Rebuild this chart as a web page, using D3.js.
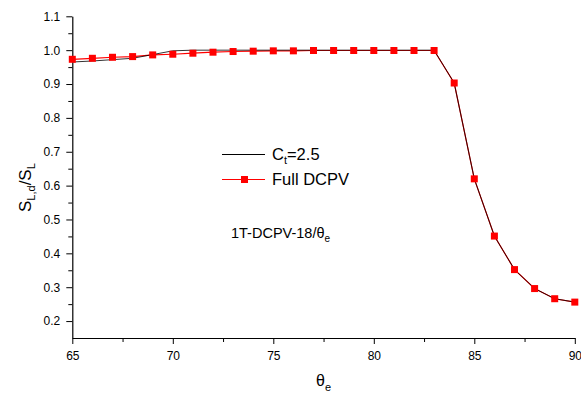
<!DOCTYPE html>
<html>
<head>
<meta charset="utf-8">
<script src="https://cdn.jsdelivr.net/npm/d3@7"></script>
<style>
  body { margin: 0; background: #fff; }
  text { font-family: "Liberation Sans", Arial, sans-serif; }
</style>
</head>
<body>
<script>
/* chart data */
var theta = [65,66,67,68,69,70,71,72,73,74,75,76,77,78,79,80,81,82,83,84,85,86,87,88,89,90];
var fullDCPV = [0.973,0.976,0.979,0.981,0.986,0.988,0.991,0.994,0.996,0.997,0.998,0.998,0.999,0.999,0.999,0.999,0.999,0.999,0.999,0.903,0.620,0.451,0.352,0.296,0.266,0.256];
var ct25 = [0.965,0.968,0.972,0.976,0.987,0.998,1.0,1.0,1.0,1.0,1.0,1.0,1.0,1.0,1.0,1.0,1.0,1.0,1.0,0.903,0.620,0.451,0.352,0.296,0.266,0.256];
var xTicks = [65,70,75,80,85,90];
var yTicks = [0.2,0.3,0.4,0.5,0.6,0.7,0.8,0.9,1.0,1.1];

var svg = d3.select("body").append("svg")
            .attr("width", 581)
            .attr("height", 396);

var x = d3.scaleLinear().domain([65, 90]).range([72.3, 574.8]);
var y = d3.scaleLinear().domain([0.15, 1.1]).range([338, 16.3]);

/* minor ticks */
var xMinor = d3.range(67.5, 90, 5);
var yMinor = d3.range(0.25, 1.1, 0.1);

svg.append("g")
   .attr("transform", "translate(0,338)")
   .call(d3.axisBottom(x).tickValues(xMinor).tickSize(4).tickFormat(""))
   .call(function(g) { g.select(".domain").remove(); });
svg.append("g")
   .attr("transform", "translate(72.3,0)")
   .call(d3.axisLeft(y).tickValues(yMinor).tickSize(4).tickFormat(""))
   .call(function(g) { g.select(".domain").remove(); });

var xAxis = svg.append("g")
   .attr("transform", "translate(0,338)")
   .call(d3.axisBottom(x).tickValues(xTicks).tickSize(6).tickSizeOuter(0).tickFormat(d3.format("d")));
xAxis.selectAll("text").attr("font-size", 12).attr("fill", "#000").attr("dy", "1.05em")
     .style("font-family", "'Liberation Sans', Arial, sans-serif");

var yAxis = svg.append("g")
   .attr("transform", "translate(72.3,0)")
   .call(d3.axisLeft(y).tickValues(yTicks).tickSize(6).tickSizeOuter(0).tickFormat(d3.format(".1f")));
yAxis.selectAll("text").attr("font-size", 12).attr("fill", "#000").attr("x", -12)
     .style("font-family", "'Liberation Sans', Arial, sans-serif");

svg.selectAll(".domain").attr("stroke", "#000").attr("stroke-width", 1.2);

/* lines */
var line = d3.line()
             .x(function(d) { return x(d[0]); })
             .y(function(d) { return y(d[1]); });

svg.append("path")
   .datum(d3.zip(theta, fullDCPV))
   .attr("d", line)
   .attr("fill", "none")
   .attr("stroke", "#ff0000")
   .attr("stroke-width", 1.2);

svg.append("path")
   .datum(d3.zip(theta, ct25))
   .attr("d", line)
   .attr("fill", "none")
   .attr("stroke", "#000")
   .attr("stroke-opacity", 0.8)
   .attr("stroke-width", 1);

svg.selectAll("rect.pt")
   .data(d3.zip(theta, fullDCPV))
   .enter()
   .append("rect")
   .attr("class", "pt")
   .attr("x", function(d) { return x(d[0]) - 3.5; })
   .attr("y", function(d) { return y(d[1]) - 3.5; })
   .attr("width", 7)
   .attr("height", 7)
   .attr("fill", "#ff0000");

/* legend */
svg.append("line").attr("x1", 222).attr("x2", 265).attr("y1", 154.5).attr("y2", 154.5)
   .attr("stroke", "#000").attr("stroke-width", 1);
var t1 = svg.append("text").attr("x", 272).attr("y", 159.5).attr("font-size", 16.5);
t1.append("tspan").text("C");
t1.append("tspan").attr("font-size", 11).attr("dy", 4).text("t");
t1.append("tspan").attr("dy", -4).text("=2.5");

svg.append("line").attr("x1", 222).attr("x2", 265).attr("y1", 179.5).attr("y2", 179.5)
   .attr("stroke", "#ff0000").attr("stroke-width", 1);
svg.append("rect").attr("x", 241).attr("y", 176).attr("width", 7).attr("height", 7).attr("fill", "#ff0000");
svg.append("text").attr("x", 272).attr("y", 184.5).attr("font-size", 16.5).text("Full DCPV");

/* annotation */
var ann = svg.append("text").attr("x", 231).attr("y", 237.5).attr("font-size", 14.5);
ann.append("tspan").text("1T-DCPV-18/\u03b8");
ann.append("tspan").attr("font-size", 10).attr("dy", 4).text("e");

/* axis titles */
var xt = svg.append("text").attr("x", 316).attr("y", 386).attr("font-size", 16);
xt.append("tspan").text("\u03b8");
xt.append("tspan").attr("font-size", 11).attr("dy", 5).text("e");

var yt = svg.append("text")
            .attr("transform", "translate(31,212) rotate(-90)")
            .attr("font-size", 17);
yt.append("tspan").text("S");
yt.append("tspan").attr("font-size", 11).attr("dy", 4).text("L,d");
yt.append("tspan").attr("dy", -4).text("/S");
yt.append("tspan").attr("font-size", 11).attr("dy", 4).text("L");
</script>
</body>
</html>
